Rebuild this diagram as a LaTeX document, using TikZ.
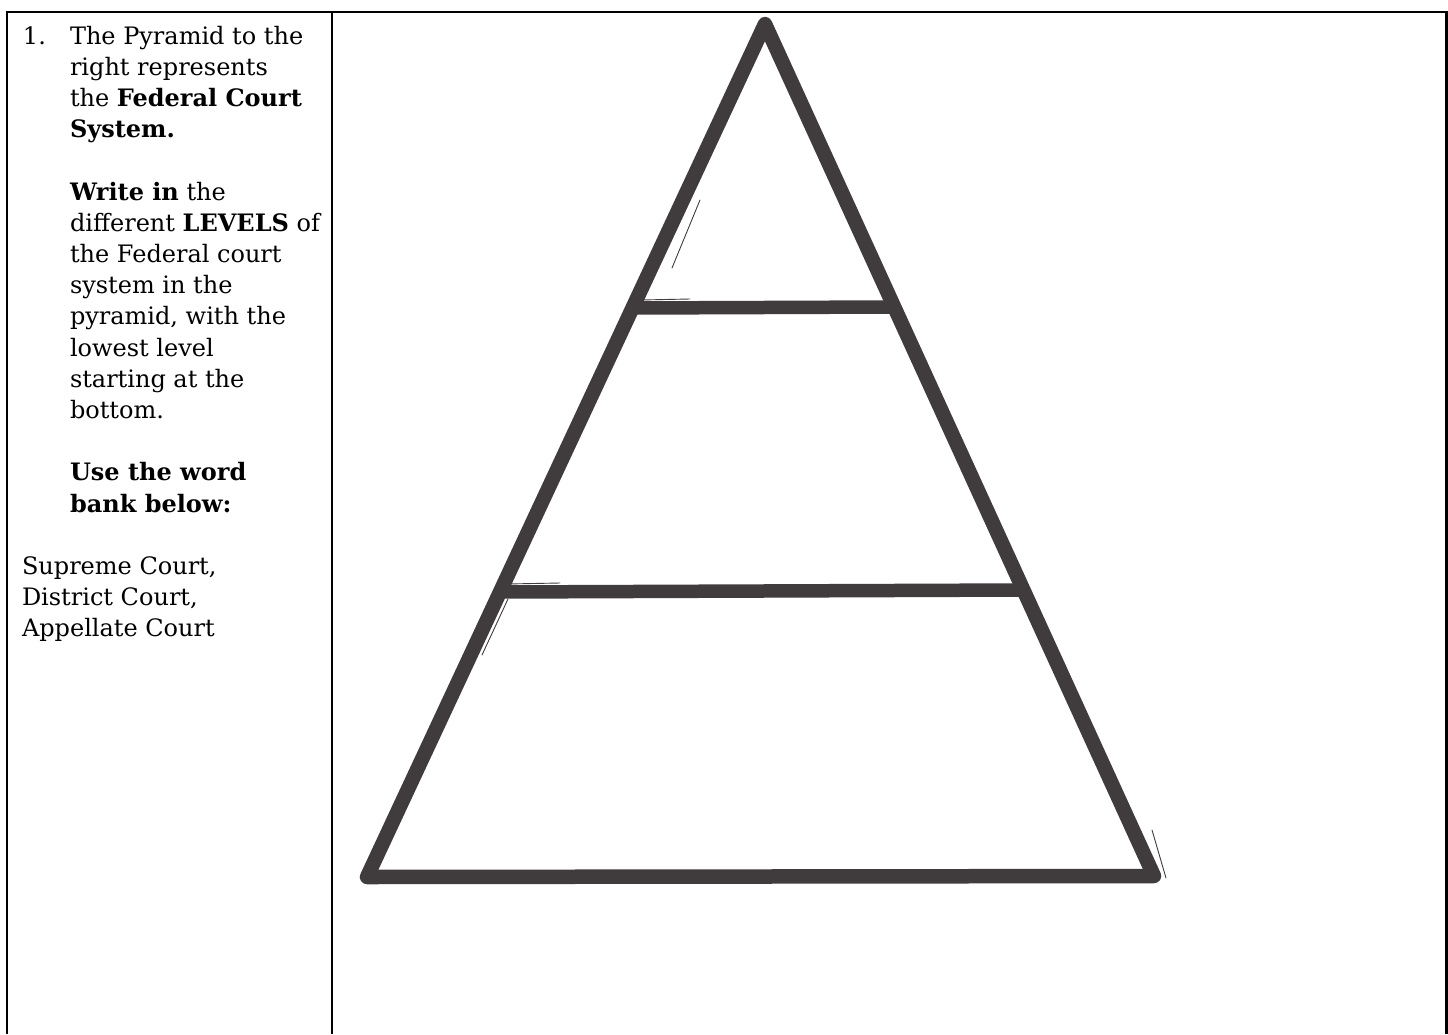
\documentclass[tikz,border=0pt]{standalone}
\usepackage{fontspec}
\setmainfont{DejaVu Serif}
\definecolor{pyr}{HTML}{403B3C}
\begin{document}
\begin{tikzpicture}[x=1pt,y=-1pt,
  txt/.style={anchor=base west, inner sep=0pt, outer sep=0pt, font=\fontsize{24}{28}\selectfont},
  rule/.style={draw=black, line width=2pt},
  thinrule/.style={draw=black, line width=1.2pt},
  pyrline/.style={draw=pyr, line width=14.5pt, line join=round},
  barline/.style={draw=pyr, line width=13.5pt, line cap=butt},
  sketch/.style={draw=pyr, line width=0.9pt, line cap=round}]
\useasboundingbox (0,0) rectangle (1448,1034);
% table
\draw[rule] (7,1034) -- (7,12) -- (333,12);
\draw[thinrule] (333,12) -- (1180,12);
\draw[draw=black, line width=2.5pt] (1180,12) -- (1446.5,12) -- (1446.5,1034);
\draw[rule] (332,12) -- (332,1034);
% text
\def\yb#1{44+31.2*#1}
\node[txt] (n1) at (23,{\yb{0}}) {1.};
\node[txt] (l0) at (70,{\yb{0}}) {The Pyramid to the};
\node[txt] (l1) at (70,{\yb{1}}) {right represents};
\node[txt] (l2) at (70,{\yb{2}}) {the \textbf{Federal Court}};
\node[txt] (l3) at (70,{\yb{3}}) {\textbf{System.}};
\node[txt] (l5) at (70,{\yb{5}}) {\textbf{Write in} the};
\node[txt] (l6) at (70,{\yb{6}}) {different \textbf{LEVELS} of};
\node[txt] (l7) at (70,{\yb{7}}) {the Federal court};
\node[txt] (l8) at (70,{\yb{8}}) {system in the};
\node[txt] (l9) at (70,{\yb{9}}) {pyramid, with the};
\node[txt] (l10) at (70,{\yb{10}}) {lowest level};
\node[txt] (l11) at (70,{\yb{11}}) {starting at the};
\node[txt] (l12) at (70,{\yb{12}}) {bottom.};
\node[txt] (l14) at (70,{\yb{14}}) {\textbf{Use the word}};
\node[txt] (l15) at (70,{\yb{15}}) {\textbf{bank below:}};
\node[txt] (w1) at (22,{\yb{17}}) {Supreme Court,};
\node[txt] (w2) at (22,{\yb{18}}) {District Court,};
\node[txt] (w3) at (22,{\yb{19}}) {Appellate Court};
% pyramid
\coordinate (A) at (765,24);
\coordinate (BL) at (367,877);
\coordinate (BR) at (1154,876);
\coordinate (ML) at (632,308);
\coordinate (MR) at (893,307);
\coordinate (LL) at (500,592);
\coordinate (LR) at (1022,590);
\draw[pyrline] (A) -- (BL) -- (BR) -- cycle;
\draw[barline] (ML) -- (MR);
\draw[barline] (LL) -- (LR);
% sketchy strokes
\draw[sketch] (700,200) -- (672,268);
\draw[sketch] (574,440) -- (548,500);
\draw[sketch] (508,599) -- (482,655);
\draw[sketch] (640,300) -- (690,299);
\draw[sketch] (506,584) -- (560,583);
\draw[sketch] (901,318) -- (913,345);
\draw[sketch] (1033,600) -- (1059,660);
\draw[sketch] (1152,830) -- (1166,878);
\end{tikzpicture}
\end{document}
